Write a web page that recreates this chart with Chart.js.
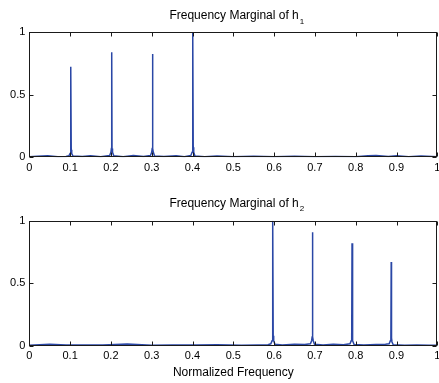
<!DOCTYPE html>
<html>
<head>
<meta charset="utf-8">
<script src="https://cdn.jsdelivr.net/npm/chart.js@4.4.1/dist/chart.umd.min.js"></script>
<style>
html, body { margin: 0; padding: 0; background: #fff; }
#wrap { position: relative; width: 439px; height: 383px; }
.panel { position: absolute; left: 0; width: 439px; }
</style>
</head>
<body>
<div id="wrap">
  <div class="panel" style="top:0;height:190px"><canvas id="h1Chart" width="439" height="190"></canvas></div>
  <div class="panel" style="top:190px;height:193px"><canvas id="h2Chart" width="439" height="193"></canvas></div>
</div>
<script>
var xTicks = [0, 0.1, 0.2, 0.3, 0.4, 0.5, 0.6, 0.7, 0.8, 0.9, 1];
var yTicks = [0, 0.5, 1];

// frequency marginal of h1
var h1Freq = [0, 0.02, 0.045, 0.07, 0.09, 0.097, 0.1, 0.1012, 0.102, 0.1028, 0.104, 0.107,
  0.13, 0.15, 0.175, 0.197, 0.2, 0.2012, 0.202, 0.2028, 0.204, 0.207,
  0.23, 0.255, 0.28, 0.297, 0.3, 0.3012, 0.302, 0.3028, 0.304, 0.307,
  0.33, 0.36, 0.38, 0.396, 0.399, 0.4002, 0.401, 0.4018, 0.403, 0.406,
  0.43, 0.46, 0.5, 0.55, 0.6, 0.65, 0.7, 0.75, 0.8, 0.83, 0.85, 0.88, 0.9, 0.93, 0.96, 1];
var h1Mag = [0.004, 0.008, 0.012, 0.005, 0.006, 0.012, 0.03, 0.06, 0.725, 0.06, 0.03, 0.01,
  0.006, 0.012, 0.005, 0.015, 0.04, 0.07, 0.84, 0.07, 0.04, 0.012,
  0.005, 0.014, 0.006, 0.015, 0.04, 0.07, 0.826, 0.07, 0.04, 0.01,
  0.006, 0.012, 0.005, 0.015, 0.04, 0.08, 1.0, 0.08, 0.04, 0.01,
  0.005, 0.01, 0.004, 0.009, 0.004, 0.008, 0.004, 0.006, 0.005, 0.012, 0.014, 0.006, 0.012, 0.004, 0.01, 0.004];

// frequency marginal of h2
var h2Freq = [0, 0.05, 0.09, 0.13, 0.18, 0.24, 0.3, 0.35, 0.41, 0.46, 0.52, 0.56, 0.585,
  0.592, 0.595, 0.5962, 0.597, 0.5978, 0.599, 0.602,
  0.62, 0.65, 0.675, 0.689, 0.692, 0.6932, 0.694, 0.6948, 0.696, 0.699,
  0.72, 0.745, 0.77, 0.786, 0.789, 0.7902, 0.791, 0.7918, 0.793, 0.796,
  0.82, 0.85, 0.873, 0.882, 0.885, 0.8862, 0.887, 0.8878, 0.889, 0.892,
  0.92, 0.95, 0.98, 1];
var h2Mag = [0.004, 0.012, 0.005, 0.006, 0.005, 0.014, 0.004, 0.006, 0.005, 0.008, 0.004, 0.006, 0.008,
  0.015, 0.04, 0.08, 1.0, 0.08, 0.04, 0.012,
  0.006, 0.012, 0.01, 0.015, 0.04, 0.07, 0.907, 0.07, 0.04, 0.012,
  0.006, 0.012, 0.008, 0.015, 0.04, 0.07, 0.82, 0.07, 0.04, 0.01,
  0.005, 0.01, 0.012, 0.015, 0.04, 0.06, 0.67, 0.06, 0.03, 0.008,
  0.004, 0.006, 0.004, 0.004];

var fontFamily = '"Liberation Sans", Arial, Helvetica, sans-serif';
var lineColor = '#2a47a6';

// matlab style box, inner ticks and title with subscript
var matlabBox = {
  id: 'matlabBox',
  afterDraw: function(chart, args, opts) {
    var ctx = chart.ctx, a = chart.chartArea;
    var xs = chart.scales.x, ys = chart.scales.y;
    ctx.save();
    ctx.strokeStyle = '#1a1a1a';
    ctx.lineWidth = 1;
    var l = Math.round(a.left) + 0.5, r = Math.round(a.right) - 0.5;
    var t = Math.round(a.top) + 0.5, b = Math.round(a.bottom) - 0.5;
    ctx.strokeRect(l, t, r - l, b - t);
    ctx.beginPath();
    xTicks.forEach(function(v) {
      var px = Math.round(xs.getPixelForValue(v)) + 0.5;
      ctx.moveTo(px, b); ctx.lineTo(px, b - 4);
      ctx.moveTo(px, t); ctx.lineTo(px, t + 4);
    });
    yTicks.forEach(function(v) {
      var py = Math.round(ys.getPixelForValue(v)) + 0.5;
      ctx.moveTo(l, py); ctx.lineTo(l + 4, py);
      ctx.moveTo(r, py); ctx.lineTo(r - 4, py);
    });
    ctx.stroke();

    ctx.fillStyle = '#000';
    ctx.textBaseline = 'alphabetic';
    ctx.font = '12px ' + fontFamily;
    var w1 = ctx.measureText(opts.title).width;
    ctx.font = '8px ' + fontFamily;
    var w2 = ctx.measureText(opts.sub).width;
    var x0 = (a.left + a.right) / 2 - (w1 + w2) / 2 + 3;
    ctx.font = '12px ' + fontFamily;
    ctx.fillText(opts.title, x0, opts.titleY);
    ctx.font = '8px ' + fontFamily;
    ctx.fillText(opts.sub, x0 + w1 + 1, opts.titleY + 4.5);
    ctx.restore();
  }
};

function makeChart(id, freq, mag, sub, titleY, padTop, xHeight, xTitle) {
  var points = freq.map(function(f, i) { return { x: f, y: mag[i] }; });
  return new Chart(document.getElementById(id), {
    type: 'line',
    data: {
      datasets: [{
        data: points,
        borderColor: lineColor,
        borderWidth: 1.5,
        pointRadius: 0,
        tension: 0,
        fill: false
      }]
    },
    options: {
      responsive: false,
      animation: false,
      layout: { autoPadding: false, padding: { top: padTop, right: 1.7, left: 0, bottom: 0 } },
      plugins: {
        legend: { display: false },
        tooltip: { enabled: false },
        matlabBox: { title: 'Frequency Marginal of h', sub: sub, titleY: titleY }
      },
      scales: {
        x: {
          type: 'linear',
          min: 0,
          max: 1,
          grid: { display: false, drawTicks: false },
          border: { display: false },
          afterBuildTicks: function(s) { s.ticks = xTicks.map(function(v) { return { value: v }; }); },
          afterFit: function(s) { s.height = xHeight; s.paddingLeft = 0; s.paddingRight = 0; },
          ticks: {
            color: '#000',
            padding: 4,
            maxRotation: 0,
            autoSkip: false,
            font: { family: fontFamily, size: 11 },
            callback: function(v) { return String(v); }
          },
          title: {
            display: !!xTitle,
            text: xTitle || '',
            color: '#000',
            font: { family: fontFamily, size: 12 },
            padding: { top: 0, bottom: 3 }
          }
        },
        y: {
          min: 0,
          max: 1,
          grid: { display: false, drawTicks: false },
          border: { display: false },
          afterBuildTicks: function(s) { s.ticks = yTicks.map(function(v) { return { value: v }; }); },
          afterFit: function(s) { s.width = 29.3; s.paddingTop = 0; s.paddingBottom = 0; },
          ticks: {
            color: '#000',
            padding: 4,
            font: { family: fontFamily, size: 11 },
            callback: function(v) { return String(v); }
          }
        }
      }
    },
    plugins: [matlabBox]
  });
}

makeChart('h1Chart', h1Freq, h1Mag, '1', 19, 32.3, 32.7, null);
makeChart('h2Chart', h2Freq, h2Mag, '2', 16.7, 30.7, 37.3, 'Normalized Frequency');
</script>
</body>
</html>
